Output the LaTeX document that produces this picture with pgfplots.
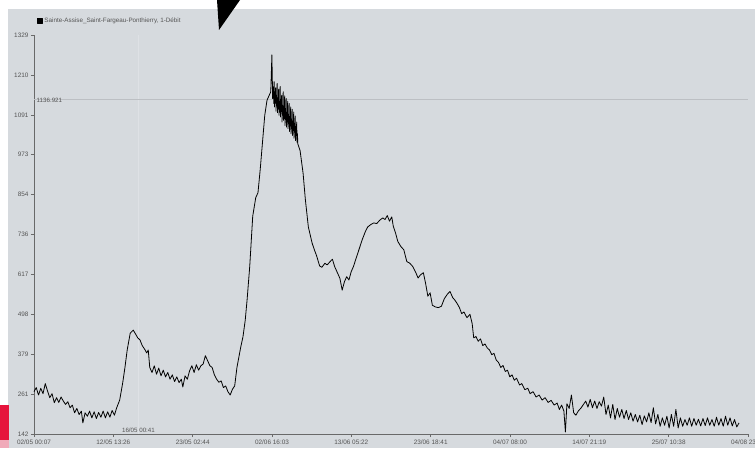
\documentclass[border=0pt]{standalone}
\usepackage{fontspec}
\setmainfont{Liberation Sans}
\usepackage{pgfplots}
\pgfplotsset{compat=1.18}
\definecolor{bg}{RGB}{214,218,222}
\definecolor{axgray}{RGB}{105,105,105}
\definecolor{txtgray}{RGB}{85,85,85}
\definecolor{refgray}{RGB}{188,191,195}
\definecolor{curgray}{RGB}{222,225,229}
\definecolor{magred}{RGB}{230,20,60}
\definecolor{magpink}{RGB}{240,170,185}
\begin{document}
\begin{tikzpicture}[x=1pt,y=1pt]
\useasboundingbox (0,0) rectangle (755,448);
\fill[white] (0,0) rectangle (755,448);
\fill[bg] (8,0) rectangle (755,439);
\fill[magred] (0,8) rectangle (9,43);
\fill[magpink] (0,0) rectangle (9,8);
\fill[black] (217,448) -- (240,448) -- (219,418) -- cycle;
\begin{axis}[
  at={(34pt,14pt)}, anchor=south west,
  scale only axis, width=714pt, height=399pt,
  xmin=0, xmax=94.994, ymin=142, ymax=1329,
  axis x line=bottom, axis y line=left,
  axis line style={-, draw=axgray, line width=0.7pt},
  tick style={draw=axgray, line width=0.5pt},
  major tick length=3pt, tick align=outside,
  xtick={0,10.5549,21.1098,31.6647,42.2196,52.7745,63.3294,73.8843,84.4392,94.994},
  xticklabels={02/05 00:07,12/05 13:26,23/05 02:44,02/06 16:03,13/06 05:22,23/06 18:41,04/07 08:00,14/07 21:19,25/07 10:38,04/08 23:57},
  ytick={142,260.7,379.4,498.1,616.8,735.5,854.2,972.9,1091.6,1210.3,1329},
  yticklabels={142,261,379,498,617,736,854,973,1091,1210,1329},
  /pgf/number format/assume math mode=true,
  tick label style={font=\fontsize{6.4}{7}\selectfont, text=txtgray},
  xticklabel style={yshift=1pt},
  yticklabel style={xshift=1pt},
  legend style={at={(0,1)}, anchor=west, xshift=3pt, yshift=14pt, draw=none, fill=none,
    inner sep=0pt, font=\fontsize{6.3}{7}\selectfont, text=txtgray},
  legend image code/.code={\fill[black] (0pt,-2.5pt) rectangle (4.5pt,2.5pt);},
  clip=false,
]
\draw[curgray, line width=0.8pt] (axis cs:13.9,142) -- (axis cs:13.9,1329);
\draw[refgray, line width=0.8pt] (axis cs:0,1136.921) -- (axis cs:94.994,1136.921);
\node[anchor=west, font=\fontsize{6.2}{7}\selectfont, text=txtgray, inner sep=1pt, yshift=-1pt] at (axis cs:0.2,1136.921) {1136.921};
\node[anchor=south, font=\fontsize{6.2}{7}\selectfont, text=txtgray, inner sep=1pt] at (axis cs:13.9,142) {16/05 00:41};
\addplot[black, line width=0.8pt, line join=round] coordinates {
(0.0,268) (0.3,280) (0.6,258) (0.9,278) (1.2,262) (1.5,292) (1.8,270) (2.1,250) (2.4,262) (2.7,235)
(3.0,250) (3.3,236) (3.6,252) (3.9,240) (4.2,230) (4.5,238) (4.8,220) (5.1,228) (5.4,205) (5.7,218)
(6.0,200) (6.3,210) (6.5,175) (6.8,205) (7.1,195) (7.4,210) (7.7,190) (8.0,208) (8.3,188) (8.6,206)
(8.9,192) (9.2,210) (9.5,190) (9.8,208) (10.1,192) (10.4,212) (10.7,198) (11.0,220) (11.4,243) (11.8,294)
(12.1,340) (12.4,392) (12.8,442) (13.2,451) (13.5,440) (13.8,428) (14.1,422) (14.4,405) (14.7,395) (15.0,383)
(15.2,392) (15.4,340) (15.7,325) (16.0,345) (16.3,320) (16.6,338) (16.9,315) (17.2,332) (17.5,312) (17.8,325)
(18.1,305) (18.4,318) (18.7,298) (19.0,312) (19.3,295) (19.6,305) (19.8,282) (20.1,315) (20.4,305) (20.7,330)
(21.0,345) (21.3,325) (21.6,348) (21.9,332) (22.2,345) (22.5,350) (22.8,375) (23.1,360) (23.4,345) (23.7,340)
(24.0,318) (24.3,305) (24.6,296) (24.9,300) (25.2,280) (25.5,285) (25.8,268) (26.1,258) (26.4,275) (26.7,285)
(27.0,340) (27.5,400) (27.8,431) (28.1,480) (28.35,541) (28.7,640) (29.1,790) (29.5,845) (29.8,860) (30.1,930)
(30.4,1010) (30.7,1090) (31.0,1135) (31.3,1150) (31.5,1160) (31.65,1270) (31.75,1140)
(31.85,1175) (31.9,1125) (31.95,1190) (32.0,1115) (32.05,1160) (32.1,1128) (32.15,1172) (32.2,1102) (32.25,1150) (32.3,1118)
(32.35,1185) (32.4,1098) (32.45,1142) (32.5,1110) (32.55,1168) (32.6,1090) (32.65,1132) (32.7,1100) (32.75,1176) (32.8,1085)
(32.85,1138) (32.9,1102) (32.95,1150) (33.0,1070) (33.05,1120) (33.1,1090) (33.15,1160) (33.2,1075) (33.25,1118) (33.3,1080)
(33.35,1148) (33.4,1060) (33.45,1110) (33.5,1078) (33.55,1140) (33.6,1055) (33.65,1098) (33.7,1070) (33.75,1132) (33.8,1050)
(33.85,1092) (33.9,1065) (33.95,1125) (34.0,1042) (34.05,1085) (34.1,1058) (34.15,1115) (34.2,1035) (34.25,1078) (34.3,1050)
(34.35,1108) (34.4,1030) (34.45,1070) (34.5,1045) (34.55,1100) (34.6,1022) (34.65,1062) (34.7,1040) (34.75,1088) (34.8,1015)
(34.85,1055) (34.9,1030) (34.95,1070) (35.0,1010) (35.05,1035) (35.1,1005)
(35.4,985) (35.8,918) (36.1,840) (36.5,758) (37.0,710) (37.3,690) (37.6,672) (38.0,642) (38.3,638)
(38.7,650) (39.0,645) (39.4,655) (39.7,662) (40.0,640) (40.3,625) (40.7,605) (41.0,570) (41.3,595) (41.6,610)
(41.9,600) (42.2,625) (42.5,640) (42.9,668) (43.3,695) (43.7,722) (44.1,745) (44.4,758) (44.8,765) (45.2,770)
(45.6,768) (46.0,778) (46.4,785) (46.7,780) (47.0,792) (47.3,775) (47.6,788) (47.8,760) (48.1,740) (48.4,715)
(48.8,700) (49.2,690) (49.6,655) (50.0,650) (50.4,640) (50.8,622) (51.1,606) (51.4,615) (51.8,622) (52.1,590)
(52.4,552) (52.7,562) (53.0,525) (53.4,520) (53.8,518) (54.2,522) (54.6,545) (55.0,558) (55.35,566) (55.7,548)
(56.0,540) (56.3,530) (56.6,518) (56.9,500) (57.2,505) (57.6,488) (58.0,498) (58.3,470) (58.5,428) (58.8,432)
(59.1,418) (59.4,425) (59.7,405) (60.0,410) (60.3,398) (60.6,392) (60.9,378) (61.2,382) (61.5,362) (61.8,355)
(62.1,340) (62.4,346) (62.7,328) (63.0,332) (63.3,312) (63.6,318) (63.9,302) (64.2,308) (64.6,288) (64.9,292)
(65.3,274) (65.7,278) (66.0,262) (66.4,268) (66.8,252) (67.2,258) (67.6,243) (68.0,250) (68.4,236) (68.8,242)
(69.2,228) (69.6,234) (69.9,215) (70.2,228) (70.5,210) (70.7,148) (70.9,232) (71.2,218) (71.5,258) (71.8,205)
(72.1,198) (72.4,210) (72.8,220) (73.1,230) (73.4,240) (73.7,222) (74.0,245) (74.3,220) (74.6,240) (74.9,218)
(75.2,238) (75.5,225) (75.8,252) (76.1,200) (76.4,228) (76.7,190) (77.0,230) (77.3,185) (77.6,218) (77.9,192)
(78.2,215) (78.5,188) (78.8,212) (79.1,185) (79.4,205) (79.7,180) (80.0,200) (80.3,178) (80.6,198) (80.9,170)
(81.2,196) (81.5,178) (81.8,205) (82.1,176) (82.4,220) (82.7,172) (83.0,200) (83.3,165) (83.6,190) (83.9,168)
(84.2,195) (84.5,160) (84.8,200) (85.1,165) (85.4,215) (85.7,160) (86.0,190) (86.3,165) (86.6,185) (86.9,168)
(87.2,190) (87.5,165) (87.8,188) (88.1,168) (88.4,186) (88.7,166) (89.0,188) (89.3,167) (89.6,190) (89.9,168)
(90.2,185) (90.5,165) (90.8,192) (91.1,168) (91.4,188) (91.7,165) (92.0,195) (92.3,168) (92.6,190) (92.9,166)
(93.2,185) (93.5,163) (93.8,175)
};
\addlegendentry{Sainte-Assise\_Saint-Fargeau-Ponthierry, 1-Débit}
\end{axis}
\end{tikzpicture}
\end{document}
